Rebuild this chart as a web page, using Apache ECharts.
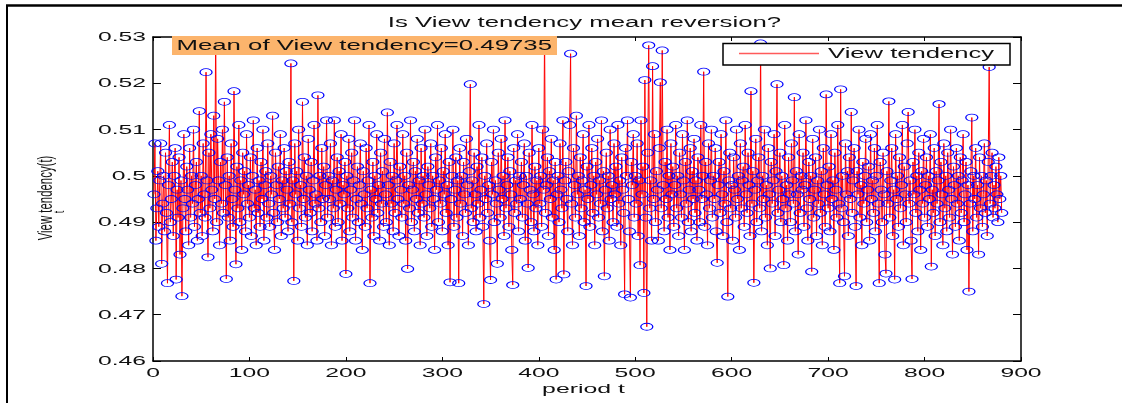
<!DOCTYPE html>
<html>
<head>
<meta charset="utf-8">
<script src="https://cdn.jsdelivr.net/npm/echarts@6/dist/echarts.min.js"></script>
<style>html,body{margin:0;padding:0;background:#fff}#c{width:1122px;height:403px}</style>
</head>
<body>
<div id="c"></div>
<script>
const titleText = 'Is View tendency mean reversion?';
const xAxisName = 'period t';
const yAxisName = 'View tendency(t)';
const yAxisSub = 't';
const seriesName = 'View tendency';
const meanLabel = 'Mean of View tendency=0.49735';
const xTicks = [0, 100, 200, 300, 400, 500, 600, 700, 800, 900];
const xTickLabels = ['0', '100', '200', '300', '400', '500', '600', '700', '800', '900'];
const yTicks = [0.46, 0.47, 0.48, 0.49, 0.50, 0.51, 0.52, 0.53];
const yTickLabels = ['0.46', '0.47', '0.48', '0.49', '0.5', '0.51', '0.52', '0.53'];

const viewTendency = [
0.496,0.507,0.486,0.493,0.501,0.489,0.499,0.507,0.481,0.494,0.500,0.488,0.505,0.492,0.4768,0.498,0.511,0.490,0.495,0.503,
0.487,0.500,0.506,0.4776,0.497,0.491,0.504,0.483,0.499,0.474,0.493,0.509,0.495,0.488,0.502,0.497,0.485,0.506,0.491,0.500,
0.494,0.510,0.489,0.498,0.503,0.486,0.495,0.514,0.492,0.500,0.487,0.507,0.496,0.491,0.5224,0.499,0.4824,0.505,0.493,0.509,
0.497,0.488,0.513,0.495,0.532,0.490,0.508,0.499,0.485,0.503,0.494,0.510,0.492,0.516,0.498,0.4777,0.504,0.491,0.500,0.486,
0.507,0.495,0.489,0.5183,0.497,0.4809,0.502,0.493,0.511,0.490,0.499,0.484,0.505,0.496,0.501,0.488,0.509,0.494,0.498,0.491,
0.504,0.487,0.500,0.512,0.493,0.497,0.485,0.506,0.492,0.499,0.489,0.503,0.495,0.510,0.486,0.498,0.501,0.491,0.507,0.494,
0.489,0.500,0.496,0.513,0.492,0.484,0.505,0.498,0.490,0.502,0.495,0.509,0.487,0.499,0.493,0.506,0.491,0.501,0.497,0.488,
0.503,0.494,0.5243,0.490,0.499,0.4773,0.507,0.496,0.501,0.486,0.510,0.493,0.498,0.489,0.516,0.495,0.504,0.491,0.500,0.485,
0.508,0.497,0.492,0.503,0.488,0.499,0.511,0.494,0.496,0.486,0.5174,0.493,0.500,0.490,0.506,0.495,0.502,0.487,0.498,0.512,
0.491,0.500,0.495,0.507,0.485,0.499,0.493,0.512,0.489,0.497,0.504,0.490,0.501,0.494,0.509,0.486,0.498,0.496,0.503,0.4788,
0.500,0.493,0.508,0.488,0.497,0.505,0.491,0.499,0.512,0.486,0.495,0.502,0.490,0.498,0.507,0.494,0.484,0.501,0.496,0.489,
0.506,0.493,0.499,0.511,0.4768,0.497,0.491,0.503,0.487,0.500,0.495,0.509,0.492,0.498,0.486,0.505,0.494,0.501,0.489,0.508,
0.496,0.490,0.5137,0.498,0.485,0.503,0.494,0.500,0.488,0.507,0.492,0.499,0.511,0.495,0.487,0.502,0.497,0.491,0.509,0.494,
0.500,0.486,0.505,0.4799,0.498,0.493,0.512,0.490,0.497,0.503,0.488,0.501,0.495,0.508,0.492,0.499,0.485,0.506,0.494,0.500,
0.491,0.510,0.496,0.487,0.502,0.498,0.493,0.507,0.489,0.500,0.495,0.484,0.504,0.497,0.511,0.490,0.499,0.494,0.506,0.488,
0.501,0.496,0.509,0.492,0.498,0.485,0.503,0.4770,0.495,0.500,0.510,0.489,0.497,0.504,0.491,0.499,0.4768,0.506,0.494,0.500,
0.487,0.503,0.496,0.492,0.508,0.498,0.485,0.501,0.5198,0.493,0.499,0.490,0.505,0.496,0.488,0.502,0.494,0.511,0.491,0.497,
0.504,0.489,0.4723,0.500,0.495,0.507,0.492,0.498,0.486,0.4775,0.503,0.496,0.510,0.490,0.499,0.494,0.481,0.505,0.497,0.491,
0.508,0.495,0.500,0.487,0.512,0.493,0.498,0.504,0.489,0.501,0.496,0.484,0.4764,0.506,0.492,0.499,0.494,0.509,0.488,0.500,
0.495,0.503,0.491,0.498,0.507,0.486,0.500,0.494,0.4801,0.505,0.497,0.490,0.511,0.496,0.488,0.502,0.493,0.499,0.485,0.506,
0.494,0.500,0.489,0.510,0.497,0.532,0.492,0.498,0.504,0.487,0.501,0.495,0.508,0.491,0.499,0.484,0.503,0.4776,0.496,0.500,
0.490,0.507,0.497,0.493,0.512,0.4787,0.499,0.503,0.495,0.488,0.501,0.511,0.5264,0.494,0.485,0.506,0.498,0.491,0.513,0.496,
0.500,0.487,0.504,0.493,0.499,0.509,0.490,0.497,0.4762,0.502,0.495,0.511,0.489,0.498,0.506,0.492,0.500,0.485,0.503,0.496,
0.508,0.491,0.499,0.494,0.512,0.488,0.501,0.4783,0.497,0.505,0.493,0.500,0.486,0.510,0.495,0.498,0.490,0.507,0.496,0.502,
0.489,0.511,0.494,0.499,0.485,0.504,0.497,0.492,0.4744,0.506,0.500,0.512,0.495,0.488,0.4737,0.503,0.498,0.509,0.491,0.500,
0.494,0.507,0.487,0.499,0.4807,0.512,0.496,0.502,0.4747,0.5207,0.491,0.4674,0.505,0.5282,0.493,0.499,0.486,0.5237,0.495,0.509,
0.490,0.501,0.497,0.486,0.506,0.5202,0.493,0.5271,0.498,0.488,0.503,0.495,0.510,0.491,0.500,0.484,0.507,0.496,0.502,0.489,
0.498,0.511,0.493,0.500,0.487,0.505,0.496,0.491,0.509,0.499,0.484,0.503,0.494,0.512,0.490,0.497,0.506,0.488,0.501,0.495,
0.508,0.492,0.499,0.486,0.504,0.497,0.490,0.511,0.495,0.500,0.5225,0.489,0.503,0.496,0.485,0.507,0.493,0.499,0.510,0.491,
0.500,0.495,0.506,0.488,0.4812,0.498,0.503,0.492,0.509,0.496,0.487,0.501,0.494,0.512,0.490,0.4739,0.499,0.505,0.493,0.498,
0.486,0.504,0.497,0.491,0.510,0.495,0.500,0.484,0.507,0.493,0.499,0.502,0.489,0.511,0.496,0.492,0.505,0.498,0.487,0.5183,
0.494,0.501,0.4769,0.497,0.508,0.490,0.499,0.504,0.493,0.5286,0.488,0.500,0.495,0.510,0.491,0.498,0.485,0.506,0.496,0.4800,
0.503,0.494,0.499,0.509,0.487,0.501,0.5198,0.492,0.497,0.505,0.490,0.500,0.495,0.4807,0.511,0.493,0.498,0.486,0.504,0.496,
0.490,0.507,0.499,0.494,0.5170,0.488,0.501,0.496,0.483,0.509,0.492,0.500,0.497,0.505,0.489,0.498,0.512,0.493,0.486,0.503,
0.495,0.500,0.4793,0.508,0.491,0.497,0.504,0.487,0.499,0.494,0.510,0.492,0.501,0.485,0.506,0.496,0.489,0.5176,0.498,0.493,
0.502,0.488,0.509,0.495,0.499,0.484,0.505,0.497,0.491,0.511,0.494,0.4768,0.5187,0.493,0.500,0.490,0.4783,0.507,0.496,0.501,
0.487,0.504,0.495,0.5138,0.492,0.499,0.506,0.489,0.4762,0.501,0.496,0.510,0.491,0.498,0.485,0.503,0.494,0.500,0.508,0.490,
0.497,0.502,0.486,0.509,0.495,0.499,0.492,0.506,0.488,0.500,0.511,0.494,0.4768,0.503,0.497,0.490,0.505,0.496,0.483,0.4789,
0.501,0.494,0.5161,0.491,0.499,0.506,0.487,0.497,0.4776,0.509,0.495,0.500,0.489,0.504,0.493,0.498,0.511,0.485,0.502,0.496,
0.490,0.507,0.5138,0.494,0.499,0.486,0.4777,0.503,0.496,0.510,0.492,0.500,0.488,0.505,0.497,0.484,0.501,0.494,0.508,0.491,
0.498,0.504,0.489,0.500,0.495,0.509,0.4804,0.497,0.492,0.506,0.487,0.501,0.494,0.499,0.5155,0.490,0.503,0.496,0.485,0.507,
0.493,0.500,0.488,0.505,0.497,0.491,0.510,0.495,0.483,0.502,0.498,0.489,0.506,0.494,0.500,0.486,0.504,0.492,0.499,0.509,
0.490,0.496,0.503,0.484,0.498,0.4750,0.494,0.501,0.5126,0.488,0.500,0.495,0.506,0.491,0.498,0.483,0.504,0.493,0.500,0.489,
0.496,0.507,0.492,0.499,0.487,0.503,0.5235,0.494,0.500,0.505,0.491,0.498,0.493,0.502,0.496,0.490,0.504,0.495,0.500,0.492
];
const periods = viewTendency.map((_, i) => i + 1);

const FONT = '"Liberation Sans", Arial, Helvetica, sans-serif';
const INK = '#111111';

const chart = echarts.init(document.getElementById('c'), null, { renderer: 'canvas' });

function xAxisDef(pos) {
  return {
    type: 'value', position: pos, min: 0, max: 900, interval: 100,
    axisLine: { show: true, onZero: false, lineStyle: { color: '#000', width: 1.5 } },
    axisTick: { show: true, inside: true, length: 4, lineStyle: { color: '#000', width: 1 } },
    axisLabel: { show: false }, splitLine: { show: false }
  };
}
function yAxisDef(pos) {
  return {
    type: 'value', position: pos, min: 0.46, max: 0.53, interval: 0.01,
    axisLine: { show: true, onZero: false, lineStyle: { color: '#000', width: 1.5 } },
    axisTick: { show: true, inside: true, length: 8, lineStyle: { color: '#000', width: 1 } },
    axisLabel: { show: false }, splitLine: { show: false }
  };
}

chart.setOption({
  animation: false,
  backgroundColor: '#ffffff',
  grid: { left: 153, top: 37, width: 868, height: 324, show: false },
  xAxis: [xAxisDef('bottom'), xAxisDef('top')],
  yAxis: [yAxisDef('left'), yAxisDef('right')],
  series: [{
    name: seriesName,
    type: 'line',
    xAxisIndex: 0, yAxisIndex: 0,
    data: viewTendency.map((v, i) => [periods[i], v]),
    symbol: 'circle',
    symbolSize: [12, 7],
    showAllSymbol: true,
    lineStyle: { color: '#ff0000', width: 1 },
    itemStyle: { color: 'rgba(255,255,255,0)', borderColor: '#0000ff', borderWidth: 1 },
    emphasis: { disabled: true },
    z: 2
  }]
});

function txt(x, y, text, size, sx, align, valign, extra) {
  return Object.assign({
    type: 'text', x: x, y: y, scaleX: sx, scaleY: 1, z: 100, silent: true,
    style: {
      text: text, x: 0, y: 0, font: size + 'px ' + FONT, fill: INK,
      align: align, verticalAlign: valign, textAlign: align, textVerticalAlign: valign
    }
  }, extra || {});
}

const g = [];
// outer figure frame (top and left edges)
g.push({ type: 'line', z: 100, silent: true, shape: { x1: 6, y1: 5.5, x2: 1122, y2: 5.5 }, style: { stroke: '#000', lineWidth: 2.5 } });
g.push({ type: 'line', z: 100, silent: true, shape: { x1: 7, y1: 5, x2: 7, y2: 403 }, style: { stroke: '#000', lineWidth: 2 } });

// tick labels
yTicks.forEach((v, i) => {
  const py = chart.convertToPixel({ yAxisIndex: 0 }, v);
  g.push(txt(146, py + 0.5, yTickLabels[i], 13, 1.9, 'right', 'middle'));
});
xTicks.forEach((v, i) => {
  const px = chart.convertToPixel({ xAxisIndex: 0 }, v);
  g.push(txt(px, 373, xTickLabels[i], 13, 1.9, 'center', 'middle'));
});

// title and axis names
g.push(txt(584.5, 23, titleText, 14, 1.84, 'center', 'middle'));
g.push(txt(583.5, 389.5, xAxisName, 13, 1.91, 'center', 'middle'));
g.push(txt(46, 198, yAxisName, 12, 1, 'center', 'middle', { rotation: Math.PI / 2, scaleX: 0.95, scaleY: 1.7 }));
g.push(txt(60, 212, yAxisSub, 9, 1, 'center', 'middle', { rotation: Math.PI / 2, scaleY: 1.7 }));

// mean annotation
g.push({ type: 'rect', z: 99, silent: true, shape: { x: 172, y: 36, width: 385, height: 19 }, style: { fill: '#fcb46c' } });
g.push(txt(176.5, 46, meanLabel, 14, 1.84, 'left', 'middle'));

// legend
g.push({ type: 'rect', z: 99, silent: true, shape: { x: 723, y: 43.5, width: 287, height: 21.5 }, style: { fill: '#ffffff', stroke: '#000', lineWidth: 1.5 } });
g.push({ type: 'line', z: 100, silent: true, shape: { x1: 739, y1: 53.5, x2: 819, y2: 53.5 }, style: { stroke: '#ff5a5a', lineWidth: 1.5 } });
g.push(txt(828, 54.5, seriesName, 14, 1.83, 'left', 'middle'));

chart.setOption({ graphic: { elements: g } });
</script>
</body>
</html>
